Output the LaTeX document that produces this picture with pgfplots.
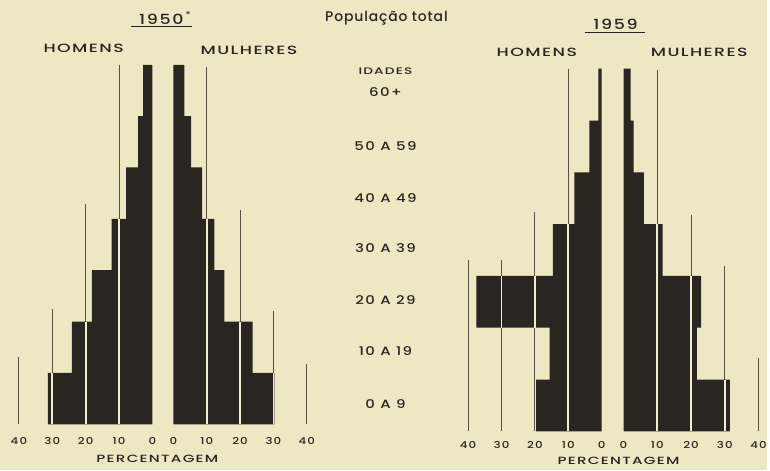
\documentclass[border=0pt]{standalone}
\usepackage{pgfplots}
\pgfplotsset{compat=1.18}
\usepackage{fontspec}
\setmainfont{Poppins}[UprightFont={* Medium}]
\newfontfamily\wide{Poppins}[UprightFont={* Medium},FakeStretch=1.25,LetterSpace=12]
\newfontfamily\wider{Poppins}[UprightFont={* Medium},FakeStretch=1.45,LetterSpace=12]
\definecolor{bg}{HTML}{EEE7C4}
\definecolor{barc}{HTML}{2B2521}
\definecolor{gl}{HTML}{5A5042}
\definecolor{cream}{HTML}{F1EBCF}
\pgfplotsset{pyr/.style={scale only axis, width=134pt, height=361pt,
  xmin=0, xmax=40, ymin=0, ymax=7, enlargelimits=false,
  axis line style={draw=none}, tick style={draw=none}, ytick=\empty,
  xtick={0,10,20,30,40}, xticklabels={0,10,20,30,40},
  /pgf/number format/assume math mode=true,
  xticklabel style={font=\wide\fontsize{9.5}{10}\selectfont, text=barc, anchor=base, yshift=-20pt},
  clip=false, unbounded coords=jump, anchor=south west}}
\tikzset{barst/.style={xbar, fill=barc, draw=none, bar width=1, bar shift=0pt},
  dark/.style={gl, line width=0.9pt},
  lite/.style={cream, line width=1.8pt}}
\begin{document}
\begin{tikzpicture}[x=1pt,y=1pt]
\fill[bg] (0,0) rectangle (770,472);
% 1950 men
\begin{axis}[pyr, at={(19pt,46pt)}, x dir=reverse]
\addplot[dark] coordinates {(10,0) (10,7.0) (10,nan) (20,0) (20,4.28) (20,nan) (30,0) (30,2.25) (30,nan) (40,0) (40,1.31)};
\addplot[barst] coordinates {(31.3,0.5) (24.1,1.5) (18.1,2.5) (12.2,3.5) (7.9,4.5) (4.3,5.5) (2.8,6.5)};
\addplot[lite] coordinates {(10,0) (10,4) (10,nan) (20,0) (20,2) (20,nan) (30,0) (30,1)};
\end{axis}
% 1950 women
\begin{axis}[pyr, at={(174pt,46pt)}]
\addplot[dark] coordinates {(10,0) (10,6.95) (10,nan) (20,0) (20,4.18) (20,nan) (30,0) (30,2.21) (30,nan) (40,0) (40,1.18)};
\addplot[barst] coordinates {(30.3,0.5) (23.8,1.5) (15.3,2.5) (12.3,3.5) (8.6,4.5) (5.3,5.5) (3.3,6.5)};
\addplot[lite] coordinates {(10,0) (10,4) (10,nan) (20,0) (20,2) (20,nan) (30,0) (30,1)};
\end{axis}
% 1959 men
\begin{axis}[pyr, at={(470pt,39pt)}, height=364pt, x dir=reverse, xticklabel style={yshift=3pt}]
\addplot[dark] coordinates {(10,0) (10,7.0) (10,nan) (20,0) (20,4.23) (20,nan) (30,0) (30,3.3) (30,nan) (40,0) (40,3.3)};
\addplot[barst] coordinates {(19.6,0.5) (15.6,1.5) (37.5,2.5) (14.6,3.5) (8.2,4.5) (3.7,5.5) (1.0,6.5)};
\addplot[lite] coordinates {(10,0) (10,4) (10,nan) (20,2) (20,3) (20,nan) (30,2) (30,3)};
\end{axis}
% 1959 women
\begin{axis}[pyr, at={(626pt,39pt)}, height=364pt, width=135.5pt, xticklabel style={yshift=3pt}]
\addplot[dark] coordinates {(10,0) (10,6.97) (10,nan) (20,0) (20,4.17) (20,nan) (30,0) (30,3.2) (30,nan) (40,0) (40,1.41)};
\addplot[barst] coordinates {(31.5,0.5) (21.7,1.5) (23.0,2.5) (11.6,3.5) (6.0,4.5) (3.0,5.5) (2.1,6.5)};
\addplot[lite] coordinates {(10,0) (10,4) (10,nan) (20,0) (20,3) (20,nan) (30,0) (30,1)};
\end{axis}
% texts
\node[anchor=base, text=barc, font=\fontsize{14}{16}\selectfont\addfontfeatures{LetterSpace=6}] at (388,450) {População total};
\node[anchor=base, text=barc, font=\wide\fontsize{14}{16}\selectfont] at (162,447) {1950};
\node[anchor=base, text=barc, font=\wide\fontsize{8}{9}\selectfont] at (189,454) {*};
\draw[barc, line width=0.9pt] (132,445) -- (193,445);
\node[anchor=base, text=barc, font=\wide\fontsize{14}{16}\selectfont] at (618,442) {1959};
\draw[barc, line width=0.9pt] (587,439) -- (648,439);
\node[anchor=base, text=barc, font=\wider\fontsize{12}{14}\selectfont] at (84,419) {HOMENS};
\node[anchor=base, text=barc, font=\wider\fontsize{12}{14}\selectfont] at (250,417) {MULHERES};
\node[anchor=base, text=barc, font=\wider\fontsize{12}{14}\selectfont] at (539,415) {HOMENS};
\node[anchor=base, text=barc, font=\wider\fontsize{12}{14}\selectfont] at (702,415) {MULHERES};
\node[anchor=base, text=barc, font=\wider\fontsize{9.5}{11}\selectfont] at (387,397) {IDADES};
\foreach \t/\yy in {60+/375, 50 A 59/321, 40 A 49/269, 30 A 39/218, 20 A 29/166, 10 A 19/115, 0 A 9/62}
  \node[anchor=base, text=barc, font=\wide\fontsize{12}{14}\selectfont] at (387,\yy) {\t};
\node[anchor=base, text=barc, font=\wider\fontsize{10.5}{12}\selectfont] at (158,8) {PERCENTAGEM};
\node[anchor=base, text=barc, font=\wider\fontsize{10.5}{12}\selectfont] at (621,6) {PERCENTAGEM};
\end{tikzpicture}
\end{document}
